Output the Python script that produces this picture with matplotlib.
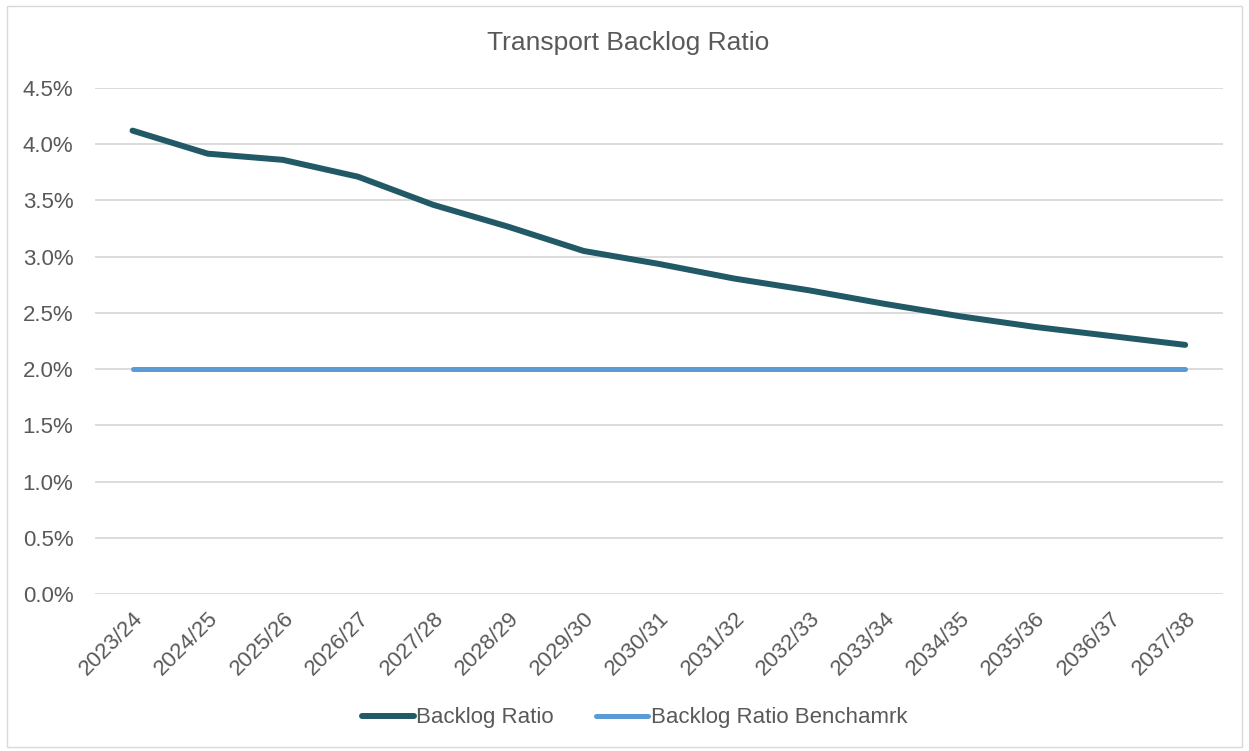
import matplotlib.pyplot as plt
from matplotlib.ticker import FuncFormatter
from matplotlib.patches import Rectangle

years = ["2023/24", "2024/25", "2025/26", "2026/27", "2027/28", "2028/29", "2029/30",
         "2030/31", "2031/32", "2032/33", "2033/34", "2034/35", "2035/36", "2036/37", "2037/38"]
backlog_ratio = [4.12, 3.915, 3.86, 3.71, 3.46, 3.265, 3.05, 2.935, 2.805, 2.70,
                 2.58, 2.47, 2.375, 2.295, 2.215]
benchmark = [2.0] * len(years)

plt.rcParams['font.family'] = ['Liberation Sans', 'DejaVu Sans']
text_color = '#595959'

fig = plt.figure(figsize=(12.49, 7.51), dpi=100)
ax = fig.add_axes([0.076, 0.209, 0.903, 0.674])

x = list(range(len(years)))
ax.plot(x, backlog_ratio, color='#215967', lw=4.3, solid_capstyle='round',
        solid_joinstyle='round', label='Backlog Ratio', zorder=3)
ax.plot(x, benchmark, color='#5B9BD5', lw=3.6, solid_capstyle='round',
        label='Backlog Ratio Benchamrk', zorder=3)

ax.set_xlim(-0.5, len(years) - 0.5)
ax.set_ylim(0, 4.5)
ax.set_yticks([i * 0.5 for i in range(10)])
ax.yaxis.set_major_formatter(FuncFormatter(lambda v, p: f"{v:.1f}%"))
ax.set_xticks(x)
ax.set_xticklabels(years, rotation=45, ha='right', rotation_mode='anchor')
ax.tick_params(axis='both', length=0, labelsize=16, colors=text_color)
ax.tick_params(axis='y', pad=15.5)
ax.tick_params(axis='x', pad=10)
ax.grid(axis='y', color='#D9D9D9', lw=1.3)
ax.set_axisbelow(True)
for s in ax.spines.values():
    s.set_visible(False)

fig.text(0.503, 0.943, "Transport Backlog Ratio", ha='center', va='center',
         fontsize=19, color=text_color)

fig.legend(loc='center', bbox_to_anchor=(0.508, 0.044), ncol=2, frameon=False,
           fontsize=16, labelcolor=text_color, handlelength=2.35, handletextpad=0.1,
           columnspacing=1.9)

fig.patches.append(Rectangle((0.006, 0.005), 0.988, 0.987, transform=fig.transFigure,
                             fill=False, edgecolor='#D9D9D9', lw=1.0))

fig.savefig('out.png', dpi=100)
